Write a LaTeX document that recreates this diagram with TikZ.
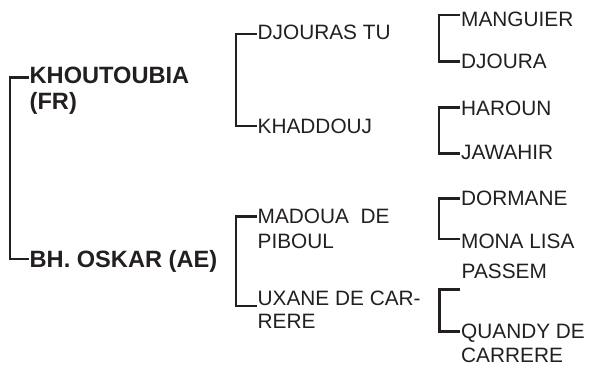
\documentclass[tikz,border=0pt]{standalone}
\usepackage{fontspec}
\setmainfont{Liberation Sans}
\usetikzlibrary{calc}
\definecolor{ink}{HTML}{231F20}
\tikzset{
  br/.style={line width=2.6pt, draw=ink, line cap=butt, line join=miter},
  lbl/.style={anchor=base west, inner sep=0pt, text=ink, font=\fontsize{20.8}{25}\selectfont},
  blbl/.style={anchor=base west, inner sep=0pt, text=ink, font=\fontsize{23.6}{27}\selectfont\bfseries},
}
\newcommand{\twol}[3]{\begin{tabular}[t]{@{}l@{}}#1\\[#3]#2\end{tabular}}
\begin{document}
\begin{tikzpicture}[x=1pt,y=-1pt]
\useasboundingbox (0,0) rectangle (589,369);
% generation 1
\node[blbl] (g1a) at (29.5,83) {\twol{KHOUTOUBIA}{(FR)}{0pt}};
\node[blbl] (g1b) at (29.5,267.5) {BH. OSKAR (AE)};
% generation 2
\node[lbl] (g2a) at (257.5,40) {DJOURAS TU};
\node[lbl] (g2b) at (257.5,133) {KHADDOUJ};
\node[lbl] (g2c) at (257.5,223.3) {\twol{MADOUA\ \ DE}{PIBOUL}{0.5pt}};
\node[lbl] (g2d) at (257.5,305) {\twol{UXANE DE CAR-}{RERE}{-1.5pt}};
% generation 3
\node[lbl] (g3a) at (461,26.7) {MANGUIER};
\node[lbl] (g3b) at (461,69) {DJOURA};
\node[lbl] (g3c) at (461,115) {HAROUN};
\node[lbl] (g3d) at (461,159) {JAWAHIR};
\node[lbl] (g3e) at (461,205.7) {DORMANE};
\node[lbl] (g3f) at (461,248.3) {MONA LISA};
\node[lbl] (g3g) at (461.5,278.3) {PASSEM};
\node[lbl] (g3h) at (461,338.5) {\twol{QUANDY DE}{CARRERE}{-1pt}};
% attachment points
\coordinate (p1a) at ($(g1a.base west)+(-1,-5.7)$);
\coordinate (p1b) at ($(g1b.base west)+(-1,-8.5)$);
\coordinate (p2a) at ($(g2a.base west)+(-0.8,-6)$);
\coordinate (p2b) at ($(g2b.base west)+(-0.8,-7)$);
\coordinate (p2c) at ($(g2c.base west)+(-0.8,-6.6)$);
\coordinate (p2d) at ($(g2d.base west)+(-0.8,1)$);
\coordinate (p3a) at ($(g3a.base west)+(-1,-11.7)$);
\coordinate (p3b) at ($(g3b.base west)+(-1,-7.3)$);
\coordinate (p3c) at ($(g3c.base west)+(-1,-7.7)$);
\coordinate (p3d) at ($(g3d.base west)+(-1,-5.7)$);
\coordinate (p3e) at ($(g3e.base west)+(-1,-7.4)$);
\coordinate (p3f) at ($(g3f.base west)+(-1,-9.3)$);
\coordinate (p3g) at ($(g3g.base west)+(-1.5,11)$);
\coordinate (p3h) at ($(g3h.base west)+(-1,-6.8)$);
% brackets
\draw[br] (p1a) -- ++(-18.5,0) |- (p1b);
\draw[br] (p2a) -- ++(-20.7,0) |- (p2b);
\draw[br] (p2c) -- ++(-20.7,0) |- (p2d);
\draw[br] (p3a) -- ++(-21,0) |- (p3b);
\draw[br] (p3c) -- ++(-21,0) |- (p3d);
\draw[br] (p3e) -- ++(-21,0) |- (p3f);
\draw[br] (p3g) -- ++(-20.5,0) |- (p3h);
\end{tikzpicture}
\end{document}
